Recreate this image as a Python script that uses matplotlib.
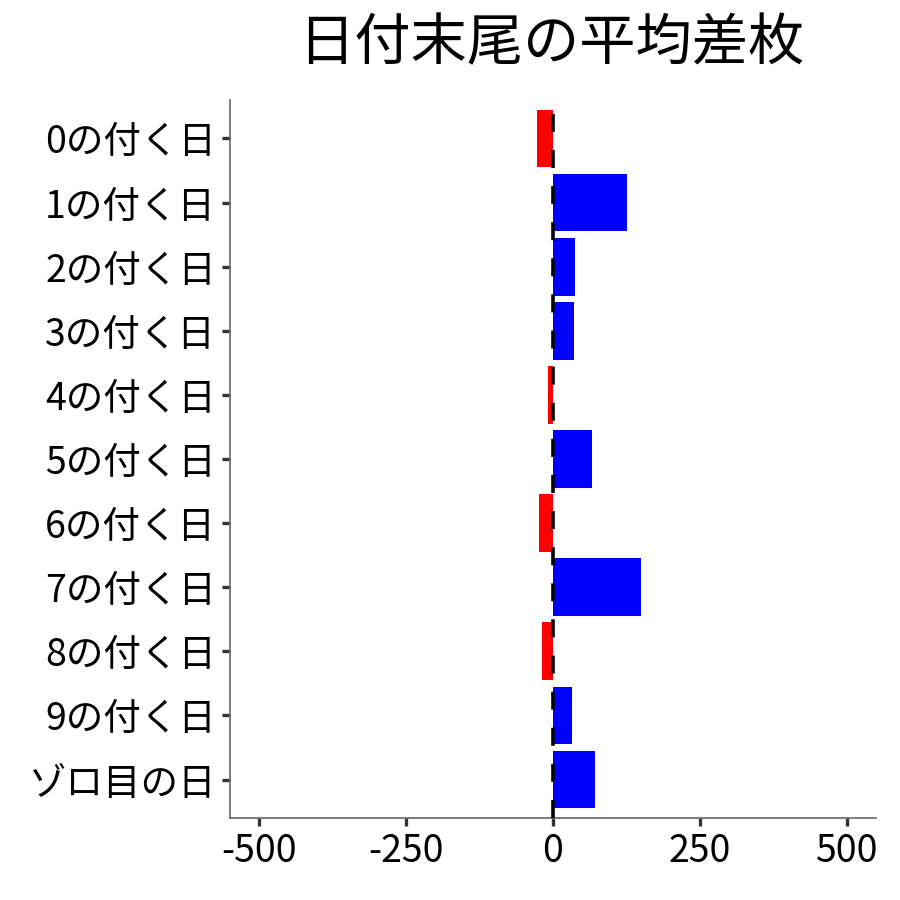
import matplotlib
matplotlib.use("Agg")
import matplotlib.pyplot as plt

plt.rcParams['font.family'] = ['Noto Sans CJK JP', 'DejaVu Sans']

categories = ["0の付く日", "1の付く日", "2の付く日", "3の付く日", "4の付く日",
              "5の付く日", "6の付く日", "7の付く日", "8の付く日", "9の付く日", "ゾロ目の日"]
values = [-28, 126, 37, 35, -8.5, 67, -23, 149, -19, 32, 71]
xticks = [-500, -250, 0, 250, 500]
title = "日付末尾の平均差枚"

fig = plt.figure(figsize=(9, 9), dpi=100)
ax = fig.add_axes([230/900, 1-818/900, (876-230)/900, (818-100)/900])

ypos = list(range(len(categories)))
colors = ["#0000FF" if v >= 0 else "#FF0000" for v in values]
ax.barh(ypos, values, height=0.9, color=colors, zorder=2)
ax.axvline(0, color="black", linewidth=2.6, dashes=(5, 5), zorder=3)

ax.set_xlim(-550, 550)
ax.set_ylim(len(categories) - 1 + 0.6, -0.6)
ax.set_yticks(ypos)
ax.set_yticklabels(categories)
ax.set_xticks(xticks)
ax.set_xticklabels([str(t) for t in xticks])

for s in ["top", "right"]:
    ax.spines[s].set_visible(False)
for s in ["left", "bottom"]:
    ax.spines[s].set_color("#666666")
    ax.spines[s].set_linewidth(1.2)
ax.tick_params(axis="both", labelsize=27, length=6, width=2.4, color="#333333",
               labelcolor="black", pad=4)

fig.text(551/900, 1-44/900, title, ha="center", va="center", fontsize=40.5)

fig.savefig("out.png", dpi=100)
